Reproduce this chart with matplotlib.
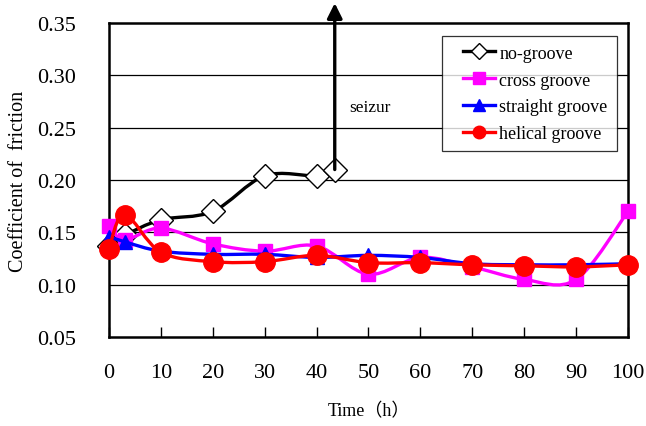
import matplotlib
matplotlib.use("Agg")
import matplotlib.pyplot as plt
from matplotlib.path import Path
from matplotlib.patches import PathPatch
from matplotlib.lines import Line2D
from matplotlib.legend_handler import HandlerLine2D
import numpy as np

plt.rcParams['font.family'] = ['Liberation Serif', 'Noto Sans CJK JP']

# ---- data ----
x_no = [0, 3, 10, 20, 30, 40, 43.5]
y_no = [0.137, 0.147, 0.162, 0.170, 0.204, 0.204, 0.210]

x_all = [0, 3, 10, 20, 30, 40, 50, 60, 70, 80, 90, 100]
y_cross = [0.156, 0.143, 0.154, 0.139, 0.132, 0.137, 0.110, 0.126, 0.117, 0.105, 0.105, 0.170]
y_straight = [0.146, 0.141, 0.132, 0.129, 0.129, 0.126, 0.128, 0.126, 0.120, 0.119, 0.119, 0.120]
y_helical = [0.134, 0.167, 0.131, 0.122, 0.122, 0.128, 0.121, 0.121, 0.119, 0.118, 0.117, 0.119]

seize_top = 0.369

labels = ['no-groove', 'cross groove', 'straight groove', 'helical groove']
colors = ['black', '#ff00ff', '#0000ff', '#ff0000']
markers = ['D', 's', '^', 'o']

xticks = [0, 10, 20, 30, 40, 50, 60, 70, 80, 90, 100]
yticks = [0.05, 0.10, 0.15, 0.20, 0.25, 0.30, 0.35]


def smooth_path(xs, ys):
    pts = np.column_stack([xs, ys]).astype(float)
    n = len(pts)
    verts = [pts[0]]
    codes = [Path.MOVETO]
    for i in range(n - 1):
        p0 = pts[i - 1] if i > 0 else pts[i]
        p1 = pts[i]
        p2 = pts[i + 1]
        p3 = pts[i + 2] if i + 2 < n else pts[i + 1]
        c1 = p1 + (p2 - p0) / 6.0
        c2 = p2 - (p3 - p1) / 6.0
        verts += [c1, c2, p2]
        codes += [Path.CURVE4] * 3
    return Path(verts, codes)


fig = plt.figure(figsize=(6.46, 4.27), dpi=100)
ax = fig.add_axes([0.1687, 0.2084, 0.8034, 0.7354])

series = [(x_no, y_no), (x_all, y_cross), (x_all, y_straight), (x_all, y_helical)]
msizes = [12.5, 10.5, 10.5, 14]
leg_ms = [8, 8, 9, 9]
handles = []
for k, ((xs, ys), c, m, lab, ms, lms) in enumerate(zip(series, colors, markers, labels, msizes, leg_ms)):
    z = 3 + k * 2
    ax.add_patch(PathPatch(smooth_path(xs, ys), fill=False, edgecolor=c, lw=2.4, zorder=z))
    mfc = 'white' if k == 0 else c
    ax.plot(xs, ys, ls='none', marker=m, ms=ms, mfc=mfc, mec=c, mew=1.0, zorder=z + 1, clip_on=False)
    handles.append(Line2D([], [], color=c, lw=2.4, marker=m, ms=lms, mfc=mfc, mec=c, mew=1.0))

# seizure arrow
ax.annotate('', xy=(x_no[-1], seize_top), xytext=(x_no[-1], y_no[-1]),
            arrowprops=dict(arrowstyle='-|>,head_length=0.9,head_width=0.45', color='black', lw=2.4,
                            shrinkA=0, shrinkB=0),
            annotation_clip=False, zorder=10)
ax.text(46.3, 0.27, 'seizur', fontsize=12.5, ha='left', va='center')

ax.set_xlim(0, 100)
ax.set_ylim(0.05, 0.35)
ax.set_xticks(xticks)
ax.set_xticklabels([str(t) for t in xticks])
ax.set_yticks(yticks)
ax.set_yticklabels([f'{t:.2f}' for t in yticks])
ax.tick_params(axis='x', direction='in', length=7, width=1, pad=19, labelsize=16)
ax.tick_params(axis='y', length=0, pad=24, labelsize=16)
for yv in yticks[1:-1]:
    ax.axhline(yv, color='black', lw=0.9, zorder=1)
for s in ax.spines.values():
    s.set_linewidth(1.8)
    s.set_color('black')

ax.set_xlabel('Time（h）', fontsize=13, labelpad=14)
ax.set_ylabel('Coefficient of  friction', fontsize=14.5, labelpad=6)

hmap = {h: HandlerLine2D(xpad=0.67) for h in handles}
leg = ax.legend(handles, labels, loc='upper right', bbox_to_anchor=(0.978, 0.96),
                fontsize=13, frameon=True, fancybox=False, edgecolor='black',
                handlelength=2.45, handletextpad=0.22, borderpad=0.5, labelspacing=0.55,
                borderaxespad=0, handler_map=hmap)
leg.get_frame().set_linewidth(0.9)
leg.set_zorder(20)

fig.savefig('out.png', dpi=100)
